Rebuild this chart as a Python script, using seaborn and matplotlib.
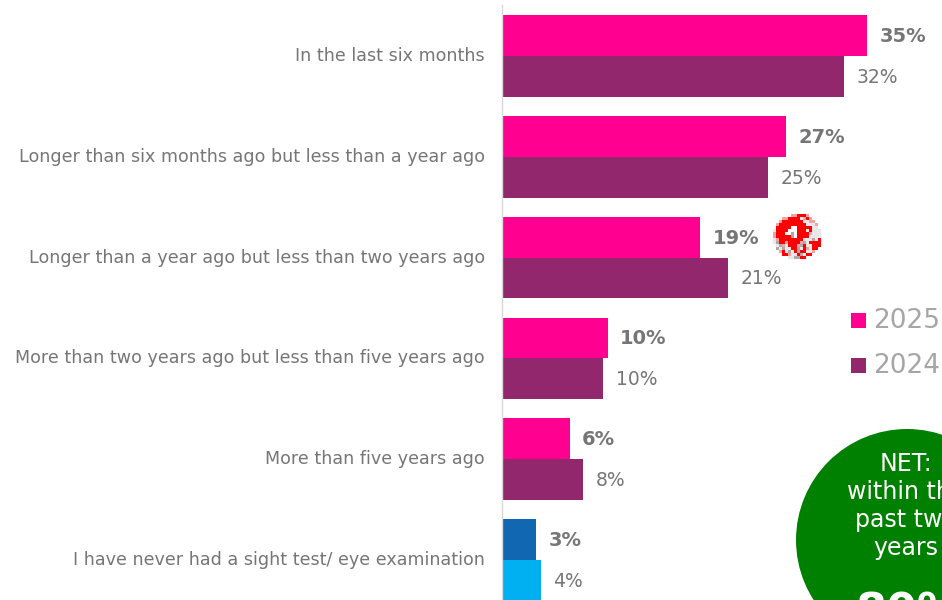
import numpy as np
import pandas as pd
import matplotlib
matplotlib.use("Agg")
import matplotlib.pyplot as plt
from matplotlib.patches import Circle, Rectangle
from matplotlib.transforms import ScaledTranslation
import seaborn as sns

categories = [
    "In the last six months",
    "Longer than six months ago but less than a year ago",
    "Longer than a year ago but less than two years ago",
    "More than two years ago but less than five years ago",
    "More than five years ago",
    "I have never had a sight test/ eye examination",
]
values_2025 = [34.6, 26.9, 18.8, 10.0, 6.4, 3.2]
values_2024 = [32.4, 25.2, 21.4, 9.6, 7.7, 3.7]
labels_2025 = ["35%", "27%", "19%", "10%", "6%", "3%"]
labels_2024 = ["32%", "25%", "21%", "10%", "8%", "4%"]
years = ["2025", "2024"]
net_lines = ["NET:", "within the", "past two", "years"]
net_value = "80%"

PINK = "#FF0090"
PURPLE = "#93276E"
BLUE = "#1267B3"
CYAN = "#00B0F0"
GREY = "#767676"

# rough copy of the pixelated red marker, one digit per palette entry below
icon = [
    "0000003311130000",
    "0003311112313000",
    "0031111111223300",
    "0311111111122230",
    "0111115511111220",
    "2111155511121222",
    "3111554511113222",
    "3111114511112222",
    "2311111111222421",
    "2411311113421111",
    "0243211134122111",
    "0424221142132110",
    "0031242141122300",
    "0001132214211000",
    "0000022441100000",
    "0000000000000000",
]
icon_colors = [(1, 1, 1, 0), (1, 0, 0, 1), (0.91, 0.91, 0.91, 1),
               (1, 0.62, 0.62, 1), (0.67, 0.67, 0.67, 1), (1, 1, 1, 1)]

df = pd.DataFrame({
    "category": categories * 2,
    "value": values_2025 + values_2024,
    "year": [years[0]] * 6 + [years[1]] * 6,
})

sns.set_theme(style="white")
plt.rcParams["font.family"] = "DejaVu Sans"

fig = plt.figure(figsize=(9.42, 6.0), dpi=100)
ax = fig.add_axes([502 / 942, 0, 440 / 942, 1])

sns.barplot(data=df, y="category", x="value", hue="year", order=categories,
            hue_order=years, palette=[PINK, PURPLE], width=0.81, gap=0,
            saturation=1, linewidth=0, legend=False, ax=ax)

# last row is not a dated answer so it gets its own colours
ax.containers[0][5].set_facecolor(BLUE)
ax.containers[1][5].set_facecolor(CYAN)

bold_labels = ax.bar_label(ax.containers[0], labels=labels_2025, padding=9,
                           color=GREY, fontsize=14, fontweight="bold")
plain_labels = ax.bar_label(ax.containers[1], labels=labels_2024, padding=9,
                            color=GREY, fontsize=13.5)
for ann in list(bold_labels) + list(plain_labels):
    ann.xyann = (ann.xyann[0], -0.7)

ax.set_xlim(0, 440 / 10.55)
ax.set_ylim(544 / 100.8, -56 / 100.8)
ax.set_xlabel("")
ax.set_ylabel("")
ax.set_xticks([])
ax.tick_params(axis="y", length=0, pad=12.5, labelsize=12.65, labelcolor=GREY)
# labels sit slightly above the bar centre
nudge = ScaledTranslation(0, 2 / 100, fig.dpi_scale_trans)
for label in ax.get_yticklabels():
    label.set_transform(label.get_transform() + nudge)
for side in ["top", "right", "bottom"]:
    ax.spines[side].set_visible(False)
ax.spines["left"].set_color("#d9d9d9")
ax.spines["left"].set_linewidth(1.0)
ax.spines["left"].set_bounds(-0.505, 544 / 100.8)

# overlay in pixel units for the legend, marker and the NET bubble
over = fig.add_axes([0, 0, 1, 1])
over.axis("off")
over.patch.set_alpha(0)

for year, color, y in zip(years, [PINK, PURPLE], [320, 365]):
    over.add_patch(Rectangle((851, y - 7.5), 15, 15, facecolor=color, edgecolor="none"))
    over.text(873, y + 1, year, color="#a6a6a6", fontsize=19, va="center", ha="left")

over.add_patch(Circle((907, 540), 111, facecolor="#008000", edgecolor="none"))
for line, y in zip(net_lines, [464, 492, 520, 548]):
    over.text(906, y, line, color="white", fontsize=17, va="center", ha="center")
over.text(908, 613, net_value, color="white", fontsize=32, fontweight="bold",
          va="center", ha="center")

icon_rgba = np.array([[icon_colors[int(c)] for c in row] for row in icon])
over.imshow(icon_rgba, extent=(773, 821, 262, 214), interpolation="nearest", aspect="auto", zorder=3)
over.set_xlim(0, 942)
over.set_ylim(600, 0)

fig.savefig("out.png", dpi=100)
